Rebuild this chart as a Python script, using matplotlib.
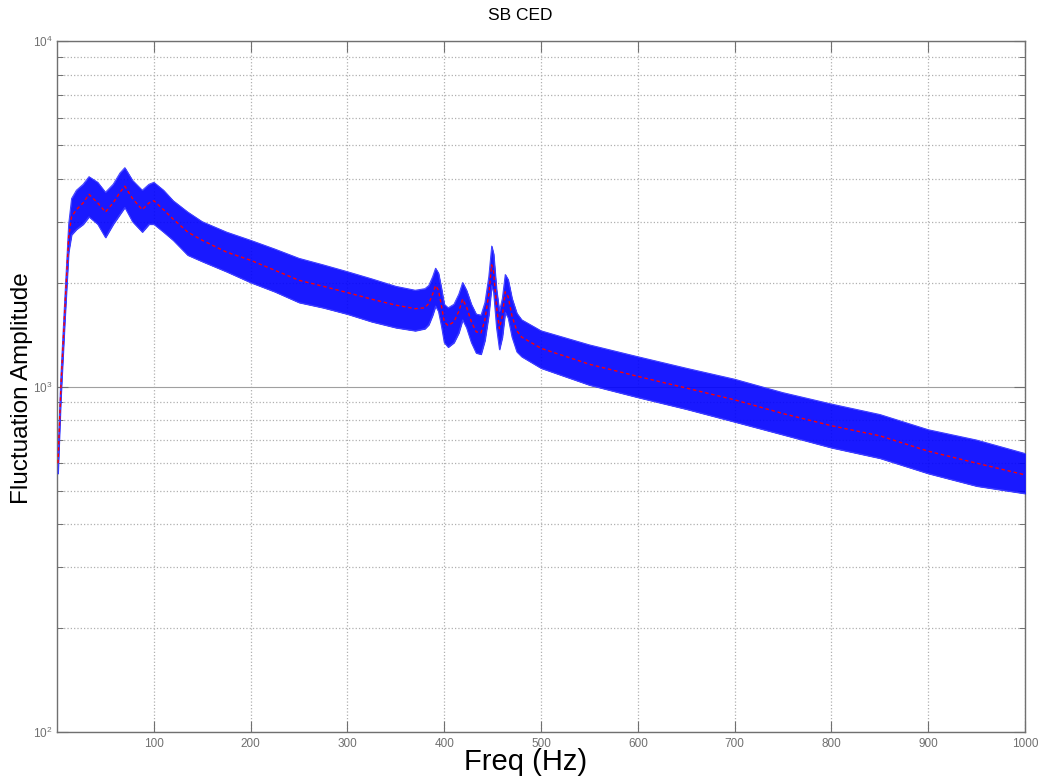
import matplotlib
matplotlib.use("Agg")
import matplotlib.pyplot as plt
from matplotlib.ticker import LogLocator, FixedLocator, NullFormatter, LogFormatterSciNotation

plt.rcParams["font.family"] = ["Liberation Sans", "DejaVu Sans"]
plt.rcParams["mathtext.default"] = "regular"

# Spectrum: frequency points, smoothed amplitude and the spread of the raw trace
freq = [1, 4, 8, 12, 15, 20, 27, 33, 42, 50, 58, 65, 70, 78, 88, 95, 100, 110,
        120, 135, 150, 175, 200, 225, 250, 275, 300, 325, 350, 370, 380, 384,
        388, 391, 394, 397, 400, 404, 410, 415, 419, 423, 428, 433, 438, 442,
        446, 449, 451, 454, 457, 460, 463, 466, 470, 475, 480,
        500, 550, 600, 650, 700, 750, 800, 850, 900, 950, 1000]
amp_smooth = [600, 1000, 1660, 2700, 3100, 3250, 3400, 3600, 3400, 3200, 3400,
              3650, 3800, 3500, 3250, 3400, 3450, 3250, 3050, 2800, 2650, 2450,
              2320, 2170, 2030, 1950, 1870, 1790, 1720, 1680, 1690, 1740,
              1850, 1960, 1900, 1720, 1540, 1500, 1540, 1650, 1790, 1700, 1540,
              1440, 1430, 1560, 1850, 2250, 2150, 1700, 1470, 1600, 1880, 1820,
              1600, 1450, 1390,
              1290, 1160, 1070, 990, 915, 835, 770, 720, 650, 600, 555]
amp_high = [640, 1080, 1800, 2950, 3500, 3700, 3850, 4050, 3900, 3650, 3850,
            4150, 4300, 3950, 3700, 3850, 3900, 3700, 3450, 3200, 3000, 2800,
            2650, 2500, 2350, 2250, 2150, 2050, 1950, 1900, 1920, 1960,
            2080, 2200, 2130, 1930, 1730, 1690, 1730, 1850, 2000, 1900, 1730,
            1620, 1610, 1750, 2080, 2550, 2420, 1910, 1650, 1800, 2110, 2040,
            1800, 1630, 1560,
            1450, 1320, 1220, 1130, 1050, 960, 890, 830, 750, 700, 640]
amp_low = [560, 930, 1540, 2450, 2750, 2850, 2950, 3100, 2950, 2700, 2950,
           3150, 3300, 3000, 2800, 2950, 2950, 2800, 2650, 2400, 2300, 2150,
           2000, 1880, 1750, 1690, 1620, 1540, 1480, 1450, 1470, 1510,
           1610, 1710, 1650, 1500, 1340, 1300, 1340, 1430, 1560, 1480, 1340,
           1250, 1240, 1360, 1610, 1960, 1870, 1480, 1280, 1390, 1640, 1580,
           1390, 1260, 1220,
           1130, 1010, 930, 860, 790, 725, 665, 620, 560, 515, 490]

x_ticks = [100, 200, 300, 400, 500, 600, 700, 800, 900, 1000]

fig = plt.figure(figsize=(10.39, 7.83), dpi=100)
ax = fig.add_axes([0.0549, 0.0651, 0.9317, 0.8825])

ax.set_yscale("log")
ax.set_xlim(0, 1000)
ax.set_ylim(100, 10000)

# raw trace spread
ax.fill_between(freq, amp_low, amp_high, color="#0000ff", alpha=0.9, lw=0.6,
                edgecolor="#2020ff", zorder=3)
ax.plot(freq, amp_high, color="#4040ff", lw=0.7, zorder=3)
ax.plot(freq, amp_low, color="#4040ff", lw=0.7, zorder=3)
# smoothed trace
ax.plot(freq, amp_smooth, color="red", lw=1.0, ls=(0, (2.5, 2)), zorder=4)

ax.xaxis.set_major_locator(FixedLocator(x_ticks))
ax.yaxis.set_major_locator(LogLocator(base=10, numticks=10))
ax.yaxis.set_minor_locator(LogLocator(base=10, subs=range(2, 10), numticks=20))
ax.yaxis.set_major_formatter(LogFormatterSciNotation())
ax.yaxis.set_minor_formatter(NullFormatter())

ax.grid(True, which="major", axis="x", color="#b0b0b0", ls=":", lw=0.9)
ax.grid(True, which="major", axis="y", color="#a0a0a0", ls="-", lw=0.8)
ax.grid(True, which="minor", axis="y", color="#b0b0b0", ls=":", lw=0.9)
ax.set_axisbelow(True)

for s in ax.spines.values():
    s.set_color("#707070")
    s.set_linewidth(1.0)

ax.tick_params(axis="both", which="major", direction="in", length=8, width=0.8,
               colors="#707070", labelcolor="#707070", labelsize=8.5,
               top=True, right=True)
ax.tick_params(axis="y", which="minor", direction="in", length=4, width=0.7,
               colors="#707070", left=True, right=True)
ax.tick_params(axis="x", pad=4)
ax.tick_params(axis="y", pad=3)

fig.text(520 / 1039, 1 - 16 / 783, "SB CED", fontsize=12.5, ha="center", va="center")
ax.set_xlabel("Freq (Hz)", fontsize=21)
ax.xaxis.set_label_coords(0.4845, -0.0434)
ax.xaxis.label.set_va("center")
ax.set_ylabel("Fluctuation Amplitude", fontsize=17.5)
ax.yaxis.set_label_coords(-0.036, 0.498)
ax.yaxis.label.set_va("center")

fig.savefig("out.png", dpi=100)
